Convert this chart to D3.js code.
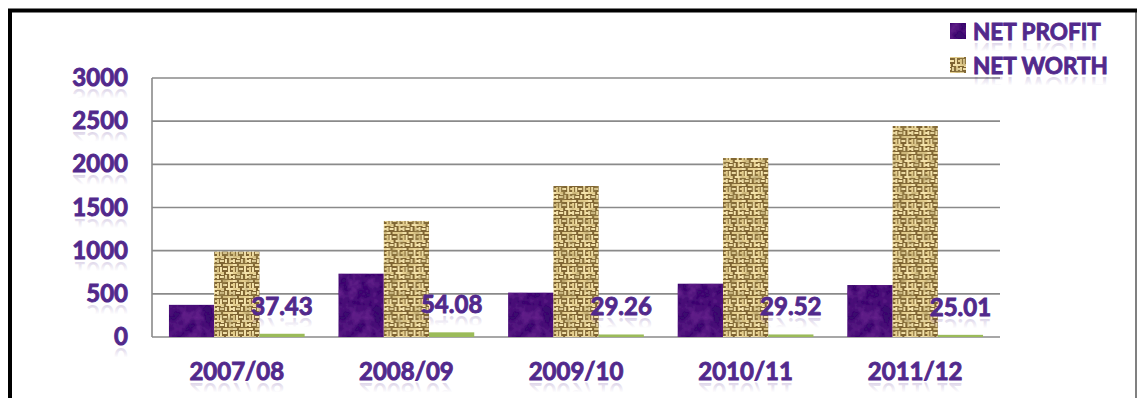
<!DOCTYPE html>
<html>
<head>
<meta charset="utf-8">
<script src="https://cdn.jsdelivr.net/npm/d3@7"></script>
<style>
  body { margin: 0; background: #fff; }
  svg { display: block; }
  text { font-family: Lato, "Open Sans", sans-serif; font-weight: 700; }
</style>
</head>
<body>
<svg id="chart"></svg>
<script>
const WIDTH = 1138;
const HEIGHT = 398;

const years = ["2007/08", "2008/09", "2009/10", "2010/11", "2011/12"];
const netProfit = [372, 733, 513, 617, 602];
const netWorth = [988, 1344, 1749, 2073, 2444];
const ratio = [37.43, 54.08, 29.26, 29.52, 25.01];
const yTicks = [0, 500, 1000, 1500, 2000, 2500, 3000];
const legendNames = ["NET PROFIT", "NET WORTH"];

const PURPLE_TEXT = "#52298c";

const svg = d3.select("#chart").attr("width", WIDTH).attr("height", HEIGHT);
const defs = svg.append("defs");

// purple mottled fill
const pf = defs.append("filter").attr("id", "mottle").attr("x", 0).attr("y", 0)
  .attr("width", 1).attr("height", 1);
pf.append("feTurbulence").attr("type", "fractalNoise").attr("baseFrequency", 0.09)
  .attr("numOctaves", 3).attr("seed", 7).attr("result", "n");
pf.append("feColorMatrix").attr("in", "n").attr("type", "matrix")
  .attr("values", "0 0 0 0 0.16  0 0 0 0 0.02  0 0 0 0 0.30  0 0 0 -1.4 0.95").attr("result", "c");
pf.append("feComposite").attr("in", "c").attr("in2", "SourceGraphic").attr("operator", "in").attr("result", "m");
pf.append("feMerge").call(m => {
  m.append("feMergeNode").attr("in", "SourceGraphic");
  m.append("feMergeNode").attr("in", "m");
});

// burlap weave
const bp = defs.append("pattern").attr("id", "burlap").attr("patternUnits", "userSpaceOnUse")
  .attr("width", 16).attr("height", 16);
bp.append("rect").attr("width", 16).attr("height", 16).attr("fill", "#7e6330");
const strands = [
  [0, 0, 7, 2], [9, 0, 7, 2], [0, 8, 4, 2], [6, 8, 10, 2],
  [0, 3, 2, 4], [8, 3, 2, 4], [12, 2, 2, 5], [3, 11, 2, 5],
  [11, 10, 2, 6], [0, 11, 2, 5], [3, 4, 4, 2], [6, 12, 4, 2],
  [14, 12, 2, 2], [4, 2, 3, 1], [13, 4, 3, 2]
];
bp.selectAll("rect.s").data(strands).enter().append("rect")
  .attr("x", d => d[0]).attr("y", d => d[1]).attr("width", d => d[2]).attr("height", d => d[3])
  .attr("fill", (d, i) => i % 3 === 0 ? "#e6d090" : "#f4e3ab");

// blur + brown blotches over the weave
const bf = defs.append("filter").attr("id", "soft").attr("x", 0).attr("y", 0)
  .attr("width", 1).attr("height", 1);
bf.append("feGaussianBlur").attr("in", "SourceGraphic").attr("stdDeviation", 0.7).attr("result", "bl");
bf.append("feTurbulence").attr("type", "fractalNoise").attr("baseFrequency", 0.12)
  .attr("numOctaves", 2).attr("seed", 3).attr("result", "n");
bf.append("feColorMatrix").attr("in", "n").attr("type", "matrix")
  .attr("values", "0 0 0 0 0.35  0 0 0 0 0.25  0 0 0 0 0.08  0 0 0 -1.6 0.9").attr("result", "c");
bf.append("feComposite").attr("in", "c").attr("in2", "SourceGraphic").attr("operator", "in").attr("result", "m");
bf.append("feMerge").call(m => {
  m.append("feMergeNode").attr("in", "bl");
  m.append("feMergeNode").attr("in", "m");
});

// reflection gradient
const rg = defs.append("linearGradient").attr("id", "refl")
  .attr("x1", 0).attr("y1", 0).attr("x2", 0).attr("y2", 1);
rg.append("stop").attr("offset", 0.5).attr("stop-color", PURPLE_TEXT).attr("stop-opacity", 0);
rg.append("stop").attr("offset", 1).attr("stop-color", PURPLE_TEXT).attr("stop-opacity", 0.3);

function fancyText(g, x, y, str, anchor, size) {
  g.append("text").attr("x", x).attr("y", y)
    .attr("text-anchor", anchor).attr("font-size", size)
    .attr("fill", "url(#refl)")
    .attr("transform", `translate(0,${2 * y + 3}) scale(1,-1)`)
    .text(str);
  g.append("text").attr("x", x).attr("y", y)
    .attr("text-anchor", anchor).attr("font-size", size)
    .attr("fill", PURPLE_TEXT).attr("stroke", PURPLE_TEXT).attr("stroke-width", 0.9)
    .text(str);
}

// frame
svg.append("rect").attr("x", 10).attr("y", 10.5).attr("width", 1126).attr("height", 400)
  .attr("fill", "none").attr("stroke", "#808080").attr("stroke-width", 2);
svg.append("line").attr("x1", 8).attr("x2", 1137).attr("y1", 10.5).attr("y2", 10.5)
  .attr("stroke", "#000").attr("stroke-width", 4);
svg.append("line").attr("x1", 10).attr("x2", 10).attr("y1", 9).attr("y2", HEIGHT)
  .attr("stroke", "#000").attr("stroke-width", 4);

const x0 = d3.scaleBand().domain(years).range([152, 1000]).paddingInner(0.2).paddingOuter(0.1);
const series = ["profit", "worth", "ratio"];
const x1 = d3.scaleBand().domain(series).range([0, x0.bandwidth()]);
const y = d3.scaleLinear().domain([0, 3000]).range([337, 78]);

// gridlines
svg.append("g").selectAll("line").data(yTicks).enter().append("line")
  .attr("x1", 152).attr("x2", 1000)
  .attr("y1", d => y(d)).attr("y2", d => y(d))
  .attr("stroke", "#8a8a8a").attr("stroke-width", 1.6);
svg.append("line").attr("x1", 152).attr("x2", 152).attr("y1", y(3000)).attr("y2", y(0))
  .attr("stroke", "#8a8a8a").attr("stroke-width", 1.6);

// y labels
const yl = svg.append("g");
yTicks.forEach(t => fancyText(yl, 128, y(t) + 8, String(t), "end", 24));

// bars
const rows = years.map((yr, i) => ({ yr, profit: netProfit[i], worth: netWorth[i], ratio: ratio[i] }));
const groups = svg.append("g").selectAll("g").data(rows).enter().append("g")
  .attr("transform", d => `translate(${x0(d.yr)},0)`);

groups.append("rect").attr("x", x1("profit")).attr("width", x1.bandwidth())
  .attr("y", d => y(d.profit)).attr("height", d => y(0) - y(d.profit))
  .attr("fill", "#3b0b6e").attr("filter", "url(#mottle)");
groups.append("rect").attr("x", x1("worth")).attr("width", x1.bandwidth())
  .attr("y", d => y(d.worth)).attr("height", d => y(0) - y(d.worth))
  .attr("fill", "url(#burlap)").attr("filter", "url(#soft)");
groups.append("rect").attr("x", x1("ratio")).attr("width", x1.bandwidth())
  .attr("y", d => y(d.ratio)).attr("height", d => y(0) - y(d.ratio))
  .attr("fill", "#9bbb59");

// data labels
groups.each(function (d) {
  fancyText(d3.select(this), x1("ratio") + x1.bandwidth() / 2, y(d.ratio) - 19, d.ratio.toFixed(2), "middle", 24);
});

// x labels
const xl = svg.append("g");
years.forEach(yr => fancyText(xl, x0(yr) + x0.bandwidth() / 2, 380, yr, "middle", 24));

// legend
const lg = svg.append("g");
legendNames.forEach((name, i) => {
  const ly = 23 + i * 34;
  lg.append("rect").attr("x", 950).attr("y", ly).attr("width", 16).attr("height", 16)
    .attr("fill", i === 0 ? "#3b0b6e" : "url(#burlap)")
    .attr("filter", i === 0 ? "url(#mottle)" : "url(#soft)");
  fancyText(lg, 973, ly + 17, name, "start", 22.5);
});
</script>
</body>
</html>
